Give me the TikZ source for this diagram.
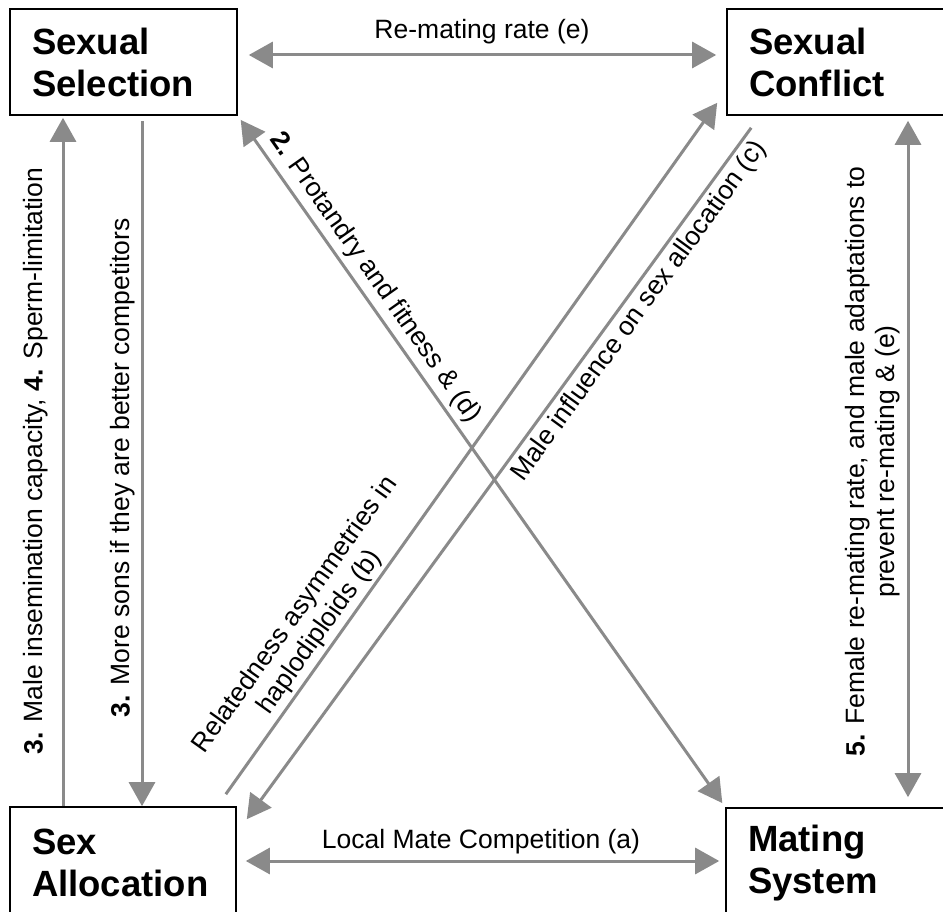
\documentclass[tikz,border=0pt]{standalone}
\usepackage{fontspec}
\setmainfont{Liberation Sans}
\usepackage{tikz}
\usetikzlibrary{arrows.meta}
\definecolor{arrowgray}{HTML}{8A8A8A}
\def\boxfont{\fontsize{36.5}{42}\selectfont\bfseries}
\def\notefont{\fontsize{26.5}{30}\selectfont}
\tikzset{
	topic/.style={draw, line width=1.6pt, align=left, font=\boxfont, inner xsep=22pt, inner ysep=0pt},
	link/.style={draw=arrowgray, line width=3pt, >={Triangle[length=24pt,width=26pt]}, font=\notefont, nodes={inner sep=2pt, text=black}}
}

\begin{document}
\begin{tikzpicture}[x=1pt, y=1pt]
			%%%%% START %%%%%
			
			\useasboundingbox (0, 0) rectangle (943, 911);
			\clip (0, 0) rectangle (943, 911);
			
			\node[topic, text width=183pt, minimum height=106pt] (ssel) at (123.5, 849) {Sexual\\Selection};
			\node[topic, text width=177pt, minimum height=106pt] (scon) at (837.5, 849) {Sexual\\Conflict};
			\node[topic, text width=182pt, minimum height=111pt] (salloc) at (123, 48.5) {Sex\\Allocation};
			\node[topic, text width=178pt, minimum height=110pt] (msys) at (837, 48) {Mating\\System};
			
			\draw[link, <->, shorten <=11pt, shorten >=10pt] ([yshift=7pt]ssel.east) -- node[above=7pt] {Re-mating rate (e)} ([yshift=7pt]scon.west);
			\draw[link, <->, shorten <=9pt, shorten >=6pt] ([yshift=1.5pt]salloc.east) -- node[above=3.5pt] {Local Mate Competition (a)} ([yshift=2pt]msys.west);
			
			\draw[link, ->, shorten >=2pt] ([xshift=-60pt]salloc.north) -- node[sloped, above=11.5pt] {\textbf{3.} Male insemination capacity, \textbf{4.} Sperm-limitation} ([xshift=-60.5pt]ssel.south);
			\draw[link, <-, shorten >=5pt] ([xshift=19pt]salloc.north) -- node[pos=.49, sloped, above=3.5pt] {\textbf{3.} More sons if they are better competitors} ([xshift=18.5pt]ssel.south);
			\draw[link, <->, shorten <=10pt, shorten >=5pt] ([xshift=71pt]msys.north) -- node[sloped, above=4.5pt, align=center] {\textbf{5.} Female re-mating rate, and male adaptations to\\prevent re-mating \& (e)} ([xshift=70.5pt]scon.south);
			
			\draw[link, <->, shorten <=5pt, shorten >=5pt] (ssel.south east) -- node[pos=.25, sloped, above=3pt] {\textbf{2.} Protandry and fitness \& (d)} (msys.north west);
			\draw[link, ->] ([shift={(-11pt,12pt)}]salloc.north east) -- node[pos=.22, sloped, above=1pt, align=center] {Relatedness asymmetries in\\haplodiploids (b)} ([shift={(-9pt,13pt)}]scon.south west);
			\draw[link, <-] ([shift={(10pt,-13pt)}]salloc.north east) -- node[pos=.75, sloped, below=2pt] {Male influence on sex allocation (c)} ([shift={(25pt,-12pt)}]scon.south west);
			
			%%%%% END %%%%%
\end{tikzpicture}
\end{document}
